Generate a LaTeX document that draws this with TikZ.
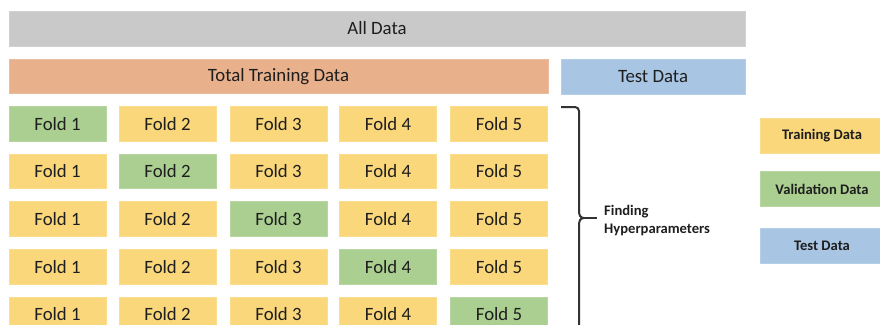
\documentclass[tikz,border=0pt]{standalone}
\usepackage{fontspec}
\setmainfont{Carlito}
\begin{document}
\begin{tikzpicture}[x=1pt,y=-1pt,
  box/.style={draw=#1!85!white, fill=#1, line width=0.6pt, inner sep=0pt,
    text=txt, font=\fontsize{18.8}{21}\selectfont},
  fold/.style={box=#1, minimum width=97pt, minimum height=34.5pt},
  legend/.style={box=#1, minimum width=124pt, minimum height=35pt,
    font=\fontsize{14.6}{17}\selectfont\bfseries},
  brace/.style={draw=braceclr, line width=2pt}]
\definecolor{txt}{HTML}{1E1E1E}
\definecolor{alldata}{HTML}{C9C9C9}
\definecolor{train}{HTML}{E8B18C}
\definecolor{testc}{HTML}{A8C5E4}
\definecolor{yel}{HTML}{F9D77A}
\definecolor{grn}{HTML}{AACF90}
\definecolor{braceclr}{HTML}{333333}
\useasboundingbox (0,0) rectangle (880,324);
\clip (0,0) rectangle (880,324);

% top bars
\node[box=alldata, minimum width=736pt, minimum height=35pt] (all) at (377,28.5) {All Data};
\node[box=train, minimum width=539pt, minimum height=34pt] (total) at (278.5,76.5) {Total Training Data};
\node[box=testc, minimum width=184pt, minimum height=35pt] (test) at (653,76.5) {Test Data};

% fold grid: the validation fold moves along the diagonal
\foreach \r/\y in {1/124, 2/171.5, 3/219, 4/267, 5/314.5}{
  \foreach \c/\x in {1/57.5, 2/167.5, 3/278.5, 4/388, 5/499}{
    \ifnum\r=\c
      \node[fold=grn] (f\r\c) at (\x,\y) {Fold \c};
    \else
      \node[fold=yel] (f\r\c) at (\x,\y) {Fold \c};
    \fi
  }
}

% brace around the folds
\draw[brace, rounded corners=4pt] (561,107) -- (579,107) -- (579,211);
\draw[brace] (579,210) .. controls (579,215) and (580,218) .. (584,218)
  .. controls (580,218) and (579,221) .. (579,226) -- (579,330);
\draw[brace] (583,218) -- (597,218);
\node[anchor=west, align=left, inner sep=0pt, text=txt,
  font=\fontsize{14.6}{18}\selectfont\bfseries] (hyp) at (604,221)
  {Finding\\Hyperparameters};

% legend
\node[legend=yel] (lt) at (822,135.5) {Training Data};
\node[legend=grn] (lv) at (822,189) {Validation Data};
\node[legend=testc] (ls) at (822,246) {Test Data};
\end{tikzpicture}
\end{document}
